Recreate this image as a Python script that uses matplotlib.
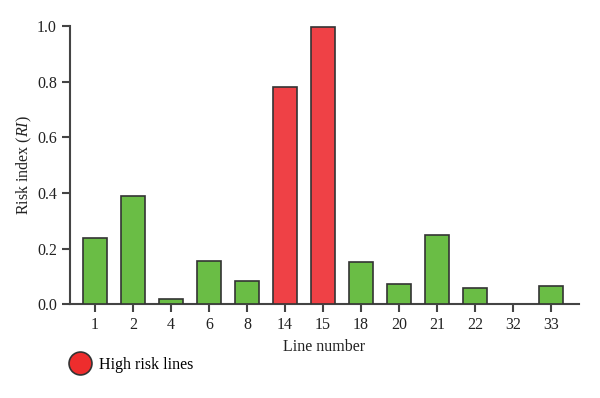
import matplotlib
matplotlib.use("Agg")
import matplotlib.pyplot as plt
from matplotlib.lines import Line2D

categories = ["1", "2", "4", "6", "8", "14", "15", "18", "20", "21", "22", "32", "33"]
values = [0.24, 0.39, 0.02, 0.155, 0.083, 0.782, 0.997, 0.152, 0.074, 0.25, 0.057, 0.0, 0.067]
high_risk = ["14", "15"]

green = "#6abd45"
red = "#ef4146"
edge = "#333333"

plt.rcParams["font.family"] = ["Liberation Serif", "DejaVu Serif"]
plt.rcParams["mathtext.fontset"] = "custom"
plt.rcParams["mathtext.rm"] = "Liberation Serif"
plt.rcParams["mathtext.it"] = "Liberation Serif:italic"

fig = plt.figure(figsize=(6.0, 3.98), dpi=100)
ax = fig.add_axes([70/600, 1 - 304.3/398, (579-70)/600, (304.3-26)/398])

x = list(range(len(categories)))
colors = [red if c in high_risk else green for c in categories]
edges = [edge if v > 0 else "none" for v in values]
ax.bar(x, values, width=0.62, color=colors, edgecolor=edges, linewidth=1.2, zorder=3)

ax.set_xlim(-0.66, 12.74)
ax.set_ylim(0, 1.0)
ax.set_xticks(x)
ax.set_xticklabels(categories)
ax.set_yticks([0.0, 0.2, 0.4, 0.6, 0.8, 1.0])
ax.set_yticklabels(["0.0", "0.2", "0.4", "0.6", "0.8", "1.0"])

for s in ["top", "right"]:
    ax.spines[s].set_visible(False)
for s in ["left", "bottom"]:
    ax.spines[s].set_color("#444444")
    ax.spines[s].set_linewidth(1.5)
ax.tick_params(axis="both", length=6, width=1.5, color="#444444", labelsize=11.5, labelcolor="#222222")

ax.set_xlabel("Line number", fontsize=11.5, color="#222222", labelpad=4)
ax.set_ylabel(r"Risk index ($\mathit{RI}$)", fontsize=11.5, color="#222222", labelpad=2)

handle = Line2D([], [], marker="o", linestyle="none", markersize=16.5,
                markerfacecolor="#ee2d2d", markeredgecolor=edge, markeredgewidth=1.2)
fig.legend([handle], ["High risk lines"], loc="center left",
           bbox_to_anchor=(62/600, 1 - 365/398), frameon=False, fontsize=11.5,
           handletextpad=0.4, borderaxespad=0, handlelength=1.5)

fig.savefig("out.png", dpi=100)
